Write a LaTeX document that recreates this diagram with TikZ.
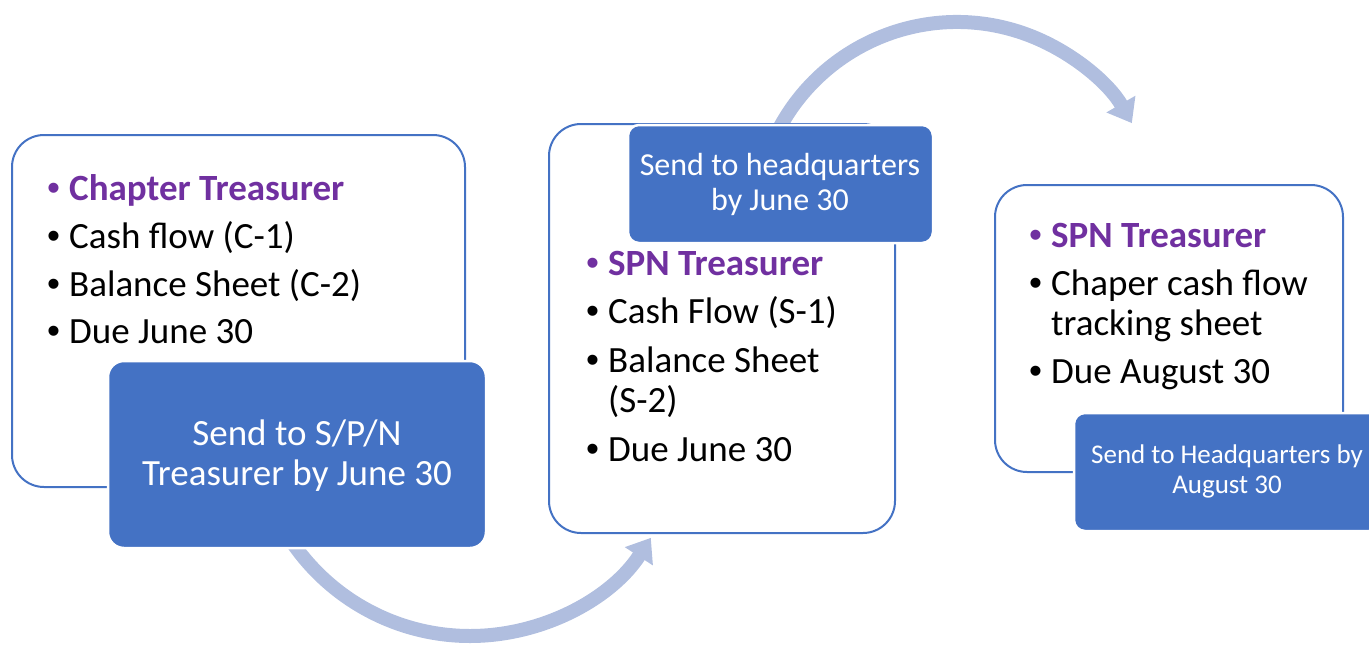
\documentclass[tikz,border=0pt]{standalone}
\usepackage{fontspec}
\setmainfont{Carlito}
\newfontfamily\bulfont{Liberation Sans}
\usetikzlibrary{arrows.meta,calc}
\definecolor{accent}{RGB}{68,114,196}
\definecolor{flowc}{RGB}{176,190,223}
\definecolor{headc}{RGB}{112,48,160}
\newcommand{\bul}{\makebox[22pt][l]{\bulfont\mdseries •}}
\begin{document}
\begin{tikzpicture}[x=1pt,y=1pt,
  panel/.style={draw=accent, line width=2pt, fill=white, rounded corners=32pt, inner sep=0pt},
  tag/.style={draw=white, line width=2.5pt, fill=accent, rounded corners=14pt, inner sep=0pt},
  flow/.style={draw=flowc, line width=14pt, -{Triangle[width=32pt,length=22pt]}},
  body/.style={anchor=base west, inner sep=0pt, font=\fontsize{37}{44}\selectfont},
  head/.style={anchor=base west, inner sep=0pt, text=headc, font=\fontsize{37}{44}\selectfont\bfseries},
  tagtext/.style={anchor=base, inner sep=0pt, text=white},
]
\useasboundingbox (0,0) rectangle (1369,-646);

% curved flow arrows (behind the boxes)
\coordinate (o1) at (470,-420.4);
\coordinate (o2) at (957,-223.7);
\coordinate (s1) at ($(o1)+(212:215.6)$);
\coordinate (s2) at ($(o2)+(158:201.7)$);
\draw[flow] (s1) arc[start angle=212, end angle=327, radius=215.6];
\draw[flow] (s2) arc[start angle=158, end angle=29.9, radius=201.7];

% white panels
\node[panel, minimum width=453, minimum height=352] (p1) at (238.5,-311) {};
\node[panel, minimum width=346, minimum height=409] (p2) at (722,-328.5) {};
\node[panel, minimum width=348, minimum height=287] (p3) at (1169,-328.5) {};

% blue tags
\node[tag, minimum width=378, minimum height=187, rounded corners=16pt] (t1) at (297,-454.5) {};
\node[tag, minimum width=305, minimum height=118, rounded corners=11pt] (t2) at (780.5,-184) {};
\node[tag, minimum width=306, minimum height=118, rounded corners=11pt] (t3) at (1227,-472) {};

% panel 1 text
\node[head] (c0) at (47,-200) {\bul Chapter Treasurer};
\node[body] (c1) at (47,-248) {\bul Cash flow (C-1)};
\node[body] (c2) at (47,-296) {\bul Balance Sheet (C-2)};
\node[body] (c3) at (47,-343) {\bul Due June 30};

% panel 2 text
\node[head] (s0) at (586,-275) {\bul SPN Treasurer};
\node[body] (s1t) at (586,-323) {\bul Cash Flow (S-1)};
\node[body] (s2t) at (586,-372) {\bul Balance Sheet};
\node[body] (s2b) at (608,-412) {(S-2)};
\node[body] (s3t) at (586,-461) {\bul Due June 30};

% panel 3 text
\node[head] (h0) at (1029,-247) {\bul SPN Treasurer};
\node[body] (h1) at (1029,-295) {\bul Chaper cash flow};
\node[body] (h1b) at (1051,-335) {tracking sheet};
\node[body] (h2) at (1029,-383) {\bul Due August 30};

% tag text
\node[tagtext, font=\fontsize{37}{40}\selectfont] (t1a) at (297,-445) {Send to S/P/N};
\node[tagtext, font=\fontsize{37}{40}\selectfont] (t1b) at (297,-485) {Treasurer by June 30};
\node[tagtext, font=\fontsize{32}{35}\selectfont] (t2a) at (780,-175) {Send to headquarters};
\node[tagtext, font=\fontsize{32}{35}\selectfont] (t2b) at (780,-210) {by June 30};
\node[tagtext, font=\fontsize{27}{30}\selectfont] (t3a) at (1227,-463) {Send to Headquarters by};
\node[tagtext, font=\fontsize{27}{30}\selectfont] (t3b) at (1227,-493) {August 30};
\end{tikzpicture}
\end{document}
